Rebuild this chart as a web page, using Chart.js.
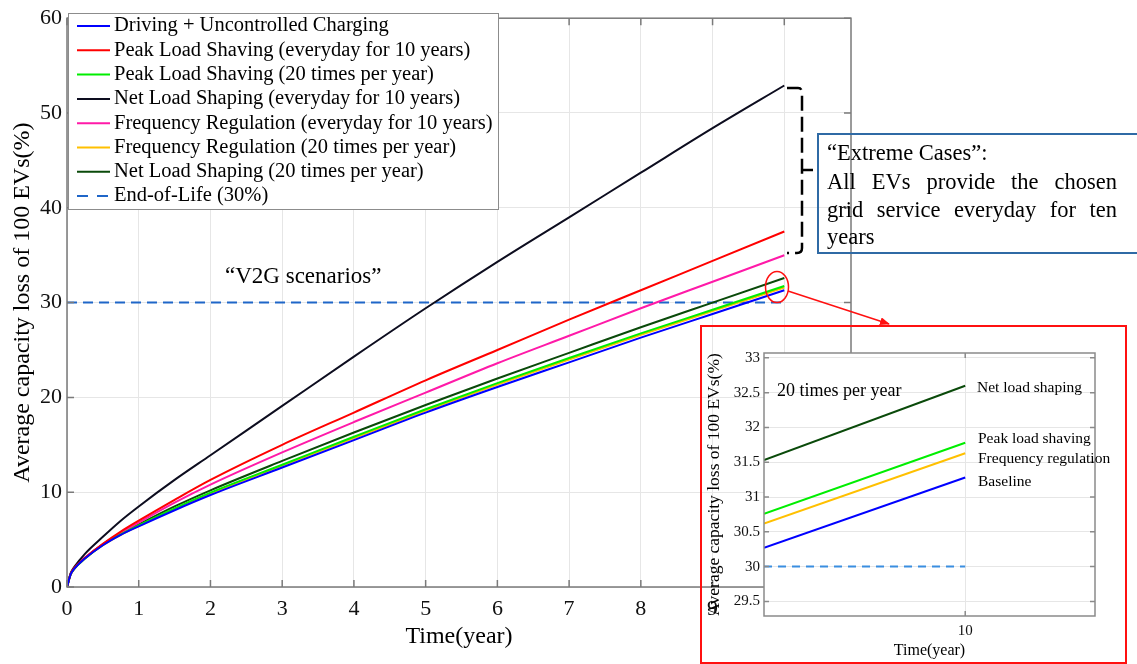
<!DOCTYPE html>
<html>
<head>
<meta charset="utf-8">
<script src="https://cdn.jsdelivr.net/npm/chart.js@4.4.0/dist/chart.umd.min.js"></script>
<style>
  body { margin: 0; width: 1137px; height: 664px; overflow: hidden; position: relative; background: #fff;
         font-family: "Liberation Serif", "Times New Roman", serif; color: #000; }
  canvas { position: absolute; }
  .txt { position: absolute; white-space: nowrap; line-height: 1; }
  #extreme { position: absolute; left: 817px; top: 133px; width: 340px; height: 121px; box-sizing: border-box;
             border: 2px solid #2f6aa5; }
  .jl { position: absolute; left: 827px; width: 290px; font-size: 22.5px; line-height: 1;
        text-align: justify; text-align-last: justify; white-space: nowrap; }
  #redbox { position: absolute; left: 700px; top: 325px; width: 427px; height: 339px; box-sizing: border-box;
            border: 2.5px solid #ff1010; }
  #overlay { position: absolute; left: 0; top: 0; pointer-events: none; }
</style>
</head>
<body>
<canvas id="mainChart" width="1137" height="664" style="left:0;top:0"></canvas>
<canvas id="insetChart" width="425" height="337" style="left:701px;top:326px"></canvas>

<div class="txt" style="left:225px;top:264px;font-size:23px">“V2G scenarios”</div>

<div id="extreme"></div>
<div class="txt" style="left:827px;top:142px;font-size:22.5px">“Extreme Cases”:</div>
<div class="jl" style="top:171px">All EVs provide the chosen</div>
<div class="jl" style="top:199px">grid service everyday for ten</div>
<div class="txt" style="left:827px;top:226px;font-size:22.5px">years</div>

<div id="redbox"></div>
<div class="txt" style="left:777px;top:381px;font-size:18px">20 times per year</div>
<div class="txt" style="left:977px;top:379px;font-size:15.5px">Net load shaping</div>
<div class="txt" style="left:978px;top:430px;font-size:15.5px">Peak load shaving</div>
<div class="txt" style="left:978px;top:450px;font-size:15.5px">Frequency regulation</div>
<div class="txt" style="left:978px;top:473px;font-size:15.5px">Baseline</div>

<svg id="overlay" width="1137" height="664">
  <defs>
    <marker id="head" markerWidth="10" markerHeight="8" refX="9" refY="4" orient="auto" markerUnits="userSpaceOnUse">
      <path d="M0,0 L10,4 L0,8 z" fill="#ff1010"/>
    </marker>
  </defs>
  <ellipse cx="777" cy="287" rx="11.5" ry="15.5" fill="none" stroke="#ff1010" stroke-width="1.5"/>
  <line x1="788" y1="291" x2="889" y2="324" stroke="#ff1010" stroke-width="1.5" marker-end="url(#head)"/>
  <path d="M787,88 L798,88 Q802,88 802,93 L802,248 Q802,253 797,253 L787,253" fill="none" stroke="#000"
        stroke-width="2.5" stroke-dasharray="15 6"/>
  <path d="M802,170 L813,170" fill="none" stroke="#000" stroke-width="2.5"/>
</svg>

<script>
// main chart: capacity loss (%) against time (year)
let years = [0, 0.05, 0.1, 0.25, 0.5, 0.75, 1, 1.5, 2, 3, 4, 5, 6, 7, 8, 9, 10];
let baseline   = [0, 1.3, 1.9, 3.0, 4.4, 5.5, 6.4, 8.1, 9.7, 12.6, 15.5, 18.4, 21.1, 23.7, 26.3, 28.8, 31.3];
let peakDaily  = [0, 1.35, 2.0, 3.05, 4.55, 5.85, 7.0, 9.2, 11.3, 15.0, 18.4, 21.8, 25.0, 28.2, 31.3, 34.4, 37.5];
let peak20     = [0, 1.3, 1.9, 3.0, 4.45, 5.55, 6.5, 8.3, 9.95, 12.9, 15.85, 18.75, 21.5, 24.15, 26.75, 29.25, 31.75];
let netDaily   = [0, 1.45, 2.1, 3.5, 5.3, 7.0, 8.5, 11.3, 13.9, 19.1, 24.3, 29.4, 34.3, 39.0, 43.7, 48.4, 52.9];
let freqDaily  = [0, 1.33, 1.95, 3.1, 4.5, 5.7, 6.8, 8.9, 10.8, 14.2, 17.4, 20.5, 23.6, 26.5, 29.4, 32.2, 35.0];
let freq20     = [0, 1.3, 1.9, 3.0, 4.4, 5.5, 6.45, 8.2, 9.85, 12.8, 15.7, 18.6, 21.35, 24.0, 26.6, 29.1, 31.6];
let net20      = [0, 1.3, 1.9, 3.05, 4.5, 5.6, 6.6, 8.5, 10.2, 13.3, 16.3, 19.2, 22.0, 24.7, 27.4, 30.0, 32.6];
let eolYears = [0, 10];
let eolValues = [30, 30];
let xTicks = [0, 1, 2, 3, 4, 5, 6, 7, 8, 9, 10];
let yTicks = [0, 10, 20, 30, 40, 50, 60];

// inset: zoom near year 10, "20 times per year" cases
let insetYears = [9.6, 10];
let insetNet   = [31.53, 32.6];
let insetPeak  = [30.76, 31.78];
let insetFreq  = [30.62, 31.63];
let insetBase  = [30.27, 31.28];
let insetEol   = [30, 30];
let insetXTicks = [10];
let insetYTicks = [29.5, 30, 30.5, 31, 31.5, 32, 32.5, 33];

function pts(xs, ys) {
    return xs.map((x, i) => ({x: x, y: ys[i]}));
}

function fixTicks(list) {
    return s => { s.ticks = list.map(v => ({value: v})); };
}

let serif = '"Liberation Serif", "Times New Roman", serif';

function line(label, xs, ys, color, dash) {
    return {
        label: label,
        data: pts(xs, ys),
        borderColor: color,
        backgroundColor: color,
        borderWidth: 2,
        borderDash: dash || [],
        pointRadius: 0,
        cubicInterpolationMode: 'monotone',
        fill: false
    };
}

// MATLAB style box with inward ticks
const boxPlugin = {
    id: 'box',
    beforeDraw(chart, args, o) {
        if (!o.fill) return;
        const a = chart.chartArea;
        chart.ctx.save();
        chart.ctx.fillStyle = '#fff';
        chart.ctx.fillRect(a.left, a.top, a.width, a.height);
        chart.ctx.restore();
    },
    afterDraw(chart, args, o) {
        const {ctx, chartArea: a, scales} = chart;
        ctx.save();
        ctx.strokeStyle = o.color;
        ctx.lineWidth = o.width;
        ctx.beginPath();
        scales.x.ticks.forEach(t => {
            const px = scales.x.getPixelForValue(t.value);
            ctx.moveTo(px, a.bottom); ctx.lineTo(px, a.bottom - o.tick);
            ctx.moveTo(px, a.top); ctx.lineTo(px, a.top + o.tick);
        });
        scales.y.ticks.forEach(t => {
            const py = scales.y.getPixelForValue(t.value);
            ctx.moveTo(a.left, py); ctx.lineTo(a.left + o.tick, py);
            ctx.moveTo(a.right, py); ctx.lineTo(a.right - o.tick, py);
        });
        ctx.stroke();
        ctx.strokeRect(a.left, a.top, a.width, a.height);
        ctx.restore();
    }
};

const legendBox = {
    id: 'legendBox',
    afterDraw(chart, args, o) {
        const ctx = chart.ctx;
        ctx.save();
        ctx.fillStyle = '#fff';
        ctx.fillRect(o.x, o.y, o.w, o.h);
        ctx.strokeStyle = '#8c8c8c';
        ctx.lineWidth = 1;
        ctx.strokeRect(o.x + 0.5, o.y + 0.5, o.w, o.h);
        ctx.font = o.font;
        ctx.textBaseline = 'middle';
        chart.data.datasets.forEach((ds, i) => {
            const y = o.y + o.first + i * o.row;
            ctx.strokeStyle = ds.borderColor;
            ctx.lineWidth = 2;
            ctx.setLineDash(ds.borderDash.length ? [11, 9] : []);
            ctx.beginPath();
            ctx.moveTo(o.x + 9, y);
            ctx.lineTo(o.x + 42, y);
            ctx.stroke();
            ctx.setLineDash([]);
            ctx.fillStyle = '#000';
            ctx.fillText(ds.label, o.x + 46, y);
        });
        ctx.restore();
    }
};

let mainChart = new Chart(document.getElementById('mainChart'), {
    type: 'line',
    data: {
        datasets: [
            line('Driving + Uncontrolled Charging', years, baseline, '#0000ff'),
            line('Peak Load Shaving (everyday for 10 years)', years, peakDaily, '#ff0000'),
            line('Peak Load Shaving (20 times per year)', years, peak20, '#00ee00'),
            line('Net Load Shaping (everyday for 10 years)', years, netDaily, '#0d0d1f'),
            line('Frequency Regulation (everyday for 10 years)', years, freqDaily, '#ff1aa8'),
            line('Frequency Regulation (20 times per year)', years, freq20, '#ffc000'),
            line('Net Load Shaping (20 times per year)', years, net20, '#0a4a0a'),
            line('End-of-Life (30%)', eolYears, eolValues, '#1f66c8', [10, 6])
        ]
    },
    options: {
        responsive: false,
        animation: false,
        devicePixelRatio: 1,
        layout: {padding: {left: 0, top: 17, right: 286, bottom: 0}},
        plugins: {
            legend: {display: false},
            tooltip: {enabled: false},
            box: {color: '#7a7a7a', width: 1.5, tick: 7},
            legendBox: {x: 68, y: 13, w: 430, h: 196, first: 13, row: 24.3, font: '20.5px ' + serif}
        },
        scales: {
            x: {
                type: 'linear', min: 0, max: 10.93,
                afterFit: s => { s.height = 77; },
                afterBuildTicks: fixTicks(xTicks),
                grid: {color: '#e6e6e6', drawTicks: false},
                border: {display: false},
                ticks: {padding: 9, color: '#111', font: {family: serif, size: 22}, maxRotation: 0,
                        callback: v => v},
                title: {display: true, text: 'Time(year)', color: '#000', font: {family: serif, size: 24},
                        padding: {top: 0, bottom: 13}}
            },
            y: {
                type: 'linear', min: 0, max: 60,
                afterFit: s => { s.width = 67; },
                afterBuildTicks: fixTicks(yTicks),
                grid: {color: '#e6e6e6', drawTicks: false},
                border: {display: false},
                ticks: {padding: 5, color: '#111', font: {family: serif, size: 22}, callback: v => v},
                title: {display: true, text: 'Average capacity loss of 100 EVs(%)', color: '#000',
                        font: {family: serif, size: 24}, padding: {top: 8, bottom: 0}}
            }
        }
    },
    plugins: [boxPlugin, legendBox]
});

let insetChart = new Chart(document.getElementById('insetChart'), {
    type: 'line',
    data: {
        datasets: [
            line('Net load shaping', insetYears, insetNet, '#0a4a0a'),
            line('Peak load shaving', insetYears, insetPeak, '#00ee00'),
            line('Frequency regulation', insetYears, insetFreq, '#ffc000'),
            line('Baseline', insetYears, insetBase, '#0000ff'),
            line('End-of-Life (30%)', insetYears, insetEol, '#3a8ee0', [8, 6])
        ]
    },
    options: {
        responsive: false,
        animation: false,
        devicePixelRatio: 1,
        layout: {padding: {left: 0, top: 27, right: 31, bottom: 0}},
        plugins: {
            legend: {display: false},
            tooltip: {enabled: false},
            box: {color: '#8a8a8a', width: 1.5, tick: 5, fill: true}
        },
        scales: {
            x: {
                type: 'linear', min: 9.6, max: 10.258,
                afterFit: s => { s.height = 47; },
                afterBuildTicks: fixTicks(insetXTicks),
                grid: {color: '#e6e6e6', drawTicks: false},
                border: {display: false},
                ticks: {padding: 6, color: '#111', font: {family: serif, size: 15}, callback: v => v},
                title: {display: true, text: 'Time(year)', color: '#000', font: {family: serif, size: 16},
                        padding: {top: 0, bottom: 3}}
            },
            y: {
                type: 'linear', min: 29.29, max: 33.07,
                afterFit: s => { s.width = 63; },
                afterBuildTicks: fixTicks(insetYTicks),
                grid: {color: '#e6e6e6', drawTicks: false},
                border: {display: false},
                ticks: {padding: 4, color: '#111', font: {family: serif, size: 15}, callback: v => String(v)},
                title: {display: true, text: 'Average capacity loss of 100 EVs(%)', color: '#000',
                        font: {family: serif, size: 17.5}, padding: {top: 3, bottom: 0}}
            }
        }
    },
    plugins: [boxPlugin]
});
</script>
</body>
</html>
